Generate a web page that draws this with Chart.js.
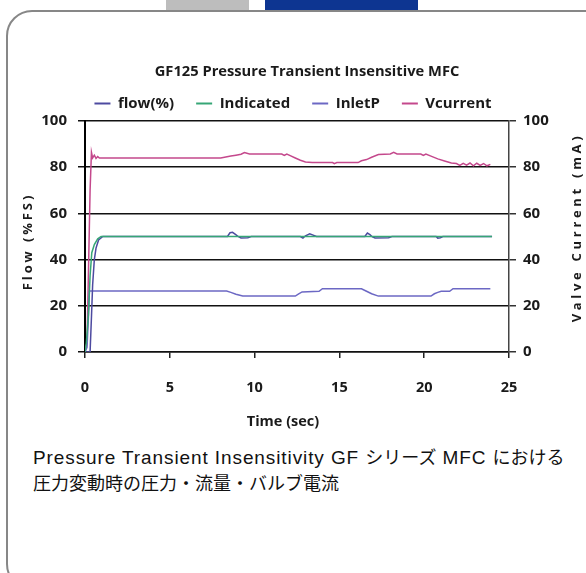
<!DOCTYPE html>
<html>
<head>
<meta charset="utf-8">
<script src="https://cdn.jsdelivr.net/npm/chart.js@4.4.1/dist/chart.umd.min.js"></script>
<style>
  html, body { margin: 0; padding: 0; background: #fff; }
  body { width: 586px; height: 573px; overflow: hidden; position: relative; }
  .tab-grey { position: absolute; left: 166px; top: 0; width: 83px; height: 10px; background: #bdbdbd; }
  .tab-blue { position: absolute; left: 265px; top: 0; width: 153px; height: 10px; background: #0d3591; }
  .frame { position: absolute; left: 6px; top: 10px; width: 604px; height: 580px; box-sizing: border-box;
           border: 2px solid #878787; border-radius: 26px; }
  #wrap { position: absolute; left: 0; top: 0; width: 586px; height: 440px; }
  .caption { position: absolute; left: 33px; font-family: "Liberation Sans", Arial, sans-serif;
             font-size: 19px; color: #111; white-space: nowrap; letter-spacing: 0.9px; }
  .caption .line { display: block; height: 26px; line-height: 26px; }
  .caption .ja { font-family: "Noto Sans CJK JP", sans-serif; font-size: 18px; letter-spacing: 0; line-height: 26px; }
  .l1 { top: 443px; }
  .l2 { top: 469px; }
</style>
</head>
<body>
<div class="tab-grey"></div>
<div class="tab-blue"></div>
<div class="frame"></div>
<div id="wrap"><canvas id="chart" width="586" height="440"></canvas></div>
<div class="caption l1"><span class="line">Pressure Transient Insensitivity GF <span class="ja">シリーズ</span> MFC <span class="ja">における</span></span></div>
<div class="caption l2"><span class="line"><span class="ja">圧力変動時の圧力・流量・バルブ電流</span></span></div>

<script>
// Series names, titles and axis ranges
const seriesNames = ['flow(%)', 'Indicated', 'InletP', 'Vcurrent'];
const chartTitle = 'GF125 Pressure Transient Insensitive MFC';
const xTitle = 'Time (sec)';
const yLeftTitle = 'Flow (%FS)';
const yRightTitle = 'Valve Current (mA)';
const xTicks = [0, 5, 10, 15, 20, 25];
const yTicks = [0, 20, 40, 60, 80, 100];

// flow(%) — time (s) / value (%FS)
const flowT = [0, 0.3, 0.38, 0.45, 0.55, 0.65, 0.8, 1.05, 8.4, 8.55, 8.7, 8.85, 9.0, 9.2, 9.6, 9.8,
               12.7, 12.85, 13.0, 13.25, 13.45, 13.65, 16.5, 16.65, 16.8, 16.95, 17.1, 17.9, 18.1,
               20.7, 20.8, 20.95, 21.1, 24.0];
const flowV = [0, 0, 15, 29, 40, 45, 48.5, 50, 50, 51.6, 51.8, 51, 50.2, 49.4, 49.5, 50,
               50, 49.3, 50.3, 51.2, 50.6, 50, 50, 51.5, 50.8, 49.8, 49.4, 49.5, 50,
               50, 49.3, 49.4, 50, 50];

// Indicated flow (%FS)
const indicatedT = [0, 0.08, 0.2, 0.3, 0.4, 0.55, 0.75, 0.95, 24.0];
const indicatedV = [0, 4, 16, 33, 43, 46.5, 49, 50, 50];

// Inlet pressure
const inletT = [0, 0.12, 0.2, 0.26, 8.35, 8.6, 8.9, 9.3, 12.4, 12.6, 12.8, 13.8, 14.0, 16.3, 16.6,
                16.9, 17.3, 20.4, 20.6, 20.8, 21.0, 21.5, 21.7, 23.9];
const inletV = [0, 2, 15, 26.4, 26.4, 25.8, 25, 24.2, 24.2, 25.2, 26, 26.3, 27.4, 27.4, 26.3,
                25.2, 24.2, 24.2, 25.2, 25.8, 26.3, 26.3, 27.4, 27.4];

// Valve current (mA)
const vcurrentT = [0, 0.12, 0.3, 0.38, 0.45, 0.55, 0.65, 0.75, 0.85, 1.0, 8.0, 8.3, 8.6, 8.9, 9.2, 9.4, 9.7,
                   11.6, 11.75, 11.9, 12.1, 12.4, 12.7, 13.0, 13.4, 14.6, 14.7, 14.85, 16.1, 16.3, 16.6,
                   16.9, 17.3, 18.0, 18.2, 18.4, 19.8, 19.95, 20.1, 20.4, 20.8, 21.2, 21.6, 21.9, 22.1,
                   22.3, 22.5, 22.7, 22.9, 23.1, 23.3, 23.5, 23.7, 23.9];
const vcurrentV = [0, 4, 70, 86.5, 84, 85.2, 83.8, 84.6, 84, 84, 84, 84.4, 84.8, 85.2, 85.6, 86.3, 85.7,
                   85.7, 85.1, 85.7, 85, 84, 83, 82.3, 82, 82, 81.5, 82, 82, 82.8, 83.3,
                   84.3, 85.5, 85.7, 86.4, 85.7, 85.7, 85.1, 85.7, 84.8, 83.6, 82.7, 81.8, 81.6, 80.8,
                   81.7, 80.9, 81.8, 80.6, 81.7, 80.8, 81.6, 80.6, 81.2];

const seriesColors = ['#4d4aa0', '#36a676', '#6c68c4', '#c4488c'];

const toPoints = (t, v) => t.map((x, i) => ({ x, y: v[i] }));

const fontStack = '"Open Sans", "DejaVu Sans", sans-serif';
const boldFont = (size) => ({ family: fontStack, weight: 'bold', size });

// Chart title, time-axis title and the rotated, letter-spaced value-axis titles
const chartTexts = {
  id: 'chartTexts',
  afterDraw(chart) {
    const { ctx, chartArea } = chart;
    const mid = (chartArea.top + chartArea.bottom) / 2;
    const hasSpacing = 'letterSpacing' in ctx;
    ctx.save();
    ctx.fillStyle = '#1a1a1a';
    ctx.textAlign = 'center';
    ctx.textBaseline = 'middle';

    ctx.font = 'bold 14.7px ' + fontStack;
    ctx.fillText(chartTitle, 307, 72);

    ctx.font = 'bold 14.5px ' + fontStack;
    ctx.fillText(xTitle, 283, chartArea.bottom + 70);

    ctx.font = 'bold 13px ' + fontStack;
    if (hasSpacing) ctx.letterSpacing = '2.9px';
    ctx.save();
    ctx.translate(28, mid + 5);
    ctx.rotate(-Math.PI / 2);
    ctx.fillText(yLeftTitle, 0, 0);
    ctx.restore();

    if (hasSpacing) ctx.letterSpacing = '3.7px';
    ctx.save();
    ctx.translate(577, mid - 9);
    ctx.rotate(-Math.PI / 2);
    ctx.fillText(yRightTitle, 0, 0);
    ctx.restore();
    ctx.restore();
  }
};

const makeSet = (i, t, v, axis, order) => ({
  label: seriesNames[i],
  data: toPoints(t, v),
  borderColor: seriesColors[i],
  backgroundColor: seriesColors[i],
  borderWidth: 1.5,
  pointRadius: 0,
  tension: 0,
  yAxisID: axis,
  order
});

new Chart(document.getElementById('chart'), {
  type: 'line',
  data: {
    datasets: [
      makeSet(0, flowT, flowV, 'y', 1),
      makeSet(1, indicatedT, indicatedV, 'y', 0),
      makeSet(2, inletT, inletV, 'y', 2),
      makeSet(3, vcurrentT, vcurrentV, 'y1', 3)
    ]
  },
  options: {
    responsive: false,
    animation: false,
    events: [],
    layout: { padding: { top: 74 } },
    plugins: {
      tooltip: { enabled: false },
      title: { display: false },
      legend: {
        display: true,
        position: 'top',
        labels: {
          boxWidth: 16,
          boxHeight: 2,
          padding: 22,
          color: '#1a1a1a',
          font: boldFont(15),
          sort: (a, b) => a.datasetIndex - b.datasetIndex,
          generateLabels(chart) {
            const items = Chart.defaults.plugins.legend.labels.generateLabels(chart);
            items.forEach(it => { it.lineWidth = 0; });
            return items;
          }
        }
      }
    },
    scales: {
      x: {
        type: 'linear',
        min: xTicks[0],
        max: xTicks[xTicks.length - 1],
        afterBuildTicks(s) { s.ticks = xTicks.map(value => ({ value })); },
        ticks: { padding: 21, color: '#1a1a1a', font: boldFont(14.5) },
        grid: { drawOnChartArea: false, tickLength: 6, color: '#222', lineWidth: 1.5 },
        border: { color: '#111', width: 1.5 },
        afterFit(s) { s.height = 88; }
      },
      y: {
        position: 'left',
        min: yTicks[0],
        max: yTicks[yTicks.length - 1],
        afterBuildTicks(s) { s.ticks = yTicks.map(value => ({ value })); },
        ticks: { padding: 11, color: '#1a1a1a', font: boldFont(15) },
        grid: { color: '#111', lineWidth: 1.5, tickLength: 7 },
        border: { color: '#000', width: 2 },
        afterFit(s) { s.width = 85; }
      },
      y1: {
        position: 'right',
        min: yTicks[0],
        max: yTicks[yTicks.length - 1],
        afterBuildTicks(s) { s.ticks = yTicks.map(value => ({ value })); },
        ticks: { padding: 7, color: '#1a1a1a', font: boldFont(15) },
        grid: { drawOnChartArea: false, color: '#333', lineWidth: 1.5, tickLength: 7 },
        border: { color: '#444', width: 1.5 },
        afterFit(s) { s.width = 77; }
      }
    }
  },
  plugins: [chartTexts]
});
</script>
</body>
</html>
